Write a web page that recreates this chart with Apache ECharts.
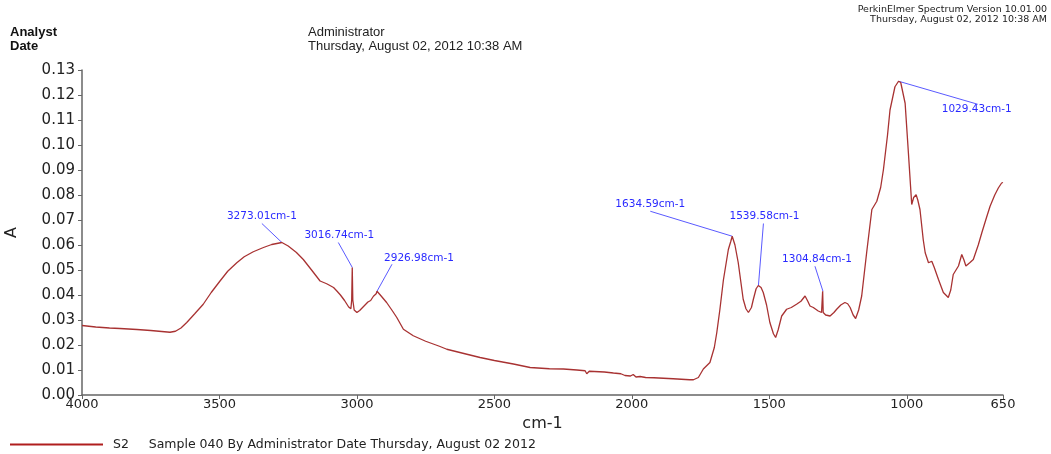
<!DOCTYPE html>
<html>
<head>
<meta charset="utf-8">
<title>Spectrum S2</title>
<script src="https://cdn.jsdelivr.net/npm/echarts@6.0.0/dist/echarts.min.js"></script>
<style>
  html, body { margin: 0; padding: 0; background: #fff; }
  #chart { width: 1051px; height: 454px; }
</style>
</head>
<body>
<div id="chart"></div>
<script>
// wavenumber (cm-1) and absorbance
var wavenumbers = [
  4000, 3950, 3900, 3862, 3800, 3750, 3700, 3680, 3660, 3640,
  3619, 3590, 3559, 3530, 3498, 3470, 3437, 3410, 3377, 3340,
  3310, 3273, 3250, 3220, 3195, 3165, 3134, 3110, 3095, 3085,
  3073, 3060, 3045, 3030, 3022, 3019, 3017, 3015, 3010, 3000,
  2990, 2975, 2960, 2950, 2940, 2930, 2927, 2915, 2892, 2870,
  2855, 2831, 2795, 2750, 2700, 2673, 2600, 2552, 2500, 2431,
  2370, 2300, 2249, 2200, 2170, 2164, 2155, 2100, 2067, 2040,
  2025, 2019, 2005, 1995, 1985, 1970, 1950, 1920, 1885, 1850,
  1820, 1790, 1776, 1758, 1740, 1716, 1700, 1691, 1680, 1667,
  1649, 1640, 1635, 1625, 1613, 1595, 1585, 1576, 1565, 1558,
  1548, 1540, 1530, 1522, 1510, 1498, 1485, 1477, 1468, 1455,
  1437, 1420, 1401, 1385, 1370, 1360, 1352, 1340, 1322, 1310,
  1306, 1304, 1295, 1279, 1265, 1255, 1240, 1225, 1215, 1206,
  1195, 1186, 1175, 1164, 1146, 1127, 1109, 1095, 1085, 1070,
  1061, 1043, 1030, 1022, 1006, 994, 982, 975, 966, 960,
  952, 940, 933, 921, 909, 900, 885, 867, 849, 840,
  831, 812, 800, 792, 785, 770, 758, 740, 727, 710,
  697, 680, 667, 655, 650
];
var absorbance = [
  0.0278, 0.0272, 0.0268, 0.0266, 0.0262, 0.0258, 0.0253, 0.0251, 0.0255, 0.0268,
  0.0290, 0.0325, 0.0363, 0.0410, 0.0456, 0.0495, 0.0529, 0.0553, 0.0573, 0.0590,
  0.0602, 0.0610, 0.0596, 0.0570, 0.0542, 0.0500, 0.0456, 0.0445, 0.0436, 0.0430,
  0.0416, 0.0400, 0.0378, 0.0352, 0.0345, 0.0380, 0.0510, 0.0380, 0.0340, 0.0330,
  0.0338, 0.0355, 0.0372, 0.0378, 0.0395, 0.0405, 0.0415, 0.0400, 0.0370, 0.0335,
  0.0310, 0.0263, 0.0237, 0.0215, 0.0195, 0.0183, 0.0163, 0.0150, 0.0138, 0.0124,
  0.0110, 0.0105, 0.0104, 0.0100, 0.0097, 0.0085, 0.0095, 0.0092, 0.0088, 0.0085,
  0.0078, 0.0085, 0.0076, 0.0082, 0.0072, 0.0074, 0.0070, 0.0069, 0.0067, 0.0065,
  0.0063, 0.0061, 0.0061, 0.0070, 0.0104, 0.0130, 0.0190, 0.0250, 0.0340, 0.0460,
  0.0582, 0.0615, 0.0635, 0.0600, 0.0529, 0.0383, 0.0345, 0.0330, 0.0350, 0.0383,
  0.0425, 0.0438, 0.0430, 0.0410, 0.0360, 0.0290, 0.0245, 0.0230, 0.0260, 0.0316,
  0.0343, 0.0350, 0.0363, 0.0375, 0.0396, 0.0375, 0.0356, 0.0350, 0.0336, 0.0330,
  0.0415, 0.0330, 0.0320, 0.0316, 0.0330, 0.0343, 0.0360, 0.0370, 0.0365, 0.0350,
  0.0320, 0.0306, 0.0340, 0.0396, 0.0569, 0.0742, 0.0775, 0.0830, 0.0901, 0.1040,
  0.1140, 0.1233, 0.1255, 0.1250, 0.1167, 0.0967, 0.0762, 0.0790, 0.0801, 0.0780,
  0.0742, 0.0620, 0.0569, 0.0529, 0.0535, 0.0510, 0.0463, 0.0410, 0.0390, 0.0420,
  0.0482, 0.0516, 0.0562, 0.0540, 0.0516, 0.0530, 0.0542, 0.0600, 0.0649, 0.0710,
  0.0755, 0.0800, 0.0828, 0.0848, 0.0850
];

var xTicks = [4000, 3500, 3000, 2500, 2000, 1500, 1000, 650];

// labelled peaks
var peaks = [3273.01, 3016.74, 2926.98, 1634.59, 1539.58, 1304.84, 1029.43];
var peakValues = [0.0610, 0.0510, 0.0415, 0.0635, 0.0438, 0.0415, 0.1255];

// leader line end offset (px) and text centre offset from that end
var peakLayout = [
  [-20, -19, 0, -7],
  [-14, -25, 1, -7],
  [15, -27, 27, -6],
  [-82, -25, 0, -7],
  [5, -62, 1, -7],
  [-8, -25, 2, -7],
  [79, 23, -1, 5]
];

var seriesName = 'S2     Sample 040 By Administrator Date Thursday, August 02 2012';

var myChart = echarts.init(document.getElementById('chart'));

var points = wavenumbers.map(function (w, i) { return [w, absorbance[i]]; });

var option = {
  animation: false,
  backgroundColor: '#fff',
  grid: { left: 82, right: 48, top: 70, height: 325, outerBoundsMode: 'none' },
  legend: {
    left: 5,
    top: 433,
    icon: 'rect',
    itemWidth: 93,
    itemHeight: 2,
    textStyle: { fontFamily: 'DejaVu Sans', fontSize: 12.5, color: '#222', padding: [0, 0, 0, 5] },
    data: [seriesName]
  },
  xAxis: {
    type: 'value',
    min: 650,
    max: 4000,
    inverse: true,
    name: 'cm-1',
    nameLocation: 'middle',
    nameGap: 19,
    nameTextStyle: { fontFamily: 'DejaVu Sans', fontSize: 16, color: '#222' },
    axisLine: { lineStyle: { color: '#666', width: 1.5 } },
    axisTick: { length: 4, lineStyle: { color: '#666' }, customValues: xTicks },
    axisLabel: {
      customValues: xTicks,
      margin: 3,
      fontFamily: 'DejaVu Sans',
      fontSize: 13,
      color: '#222',
      formatter: function (v) { return String(v); }
    },
    splitLine: { show: false }
  },
  yAxis: {
    type: 'value',
    min: 0,
    max: 0.13,
    interval: 0.01,
    name: 'A',
    nameLocation: 'middle',
    nameGap: 62,
    nameRotate: 90,
    nameTextStyle: { fontFamily: 'DejaVu Sans', fontSize: 16, color: '#222' },
    axisLine: { show: true, lineStyle: { color: '#666', width: 1.5 } },
    axisTick: { show: true, length: 4, lineStyle: { color: '#666' } },
    axisLabel: {
      margin: 7,
      fontFamily: 'DejaVu Sans',
      fontSize: 15,
      color: '#222',
      formatter: function (v) { return v.toFixed(2); }
    },
    splitLine: { show: false }
  },
  series: [{
    name: seriesName,
    type: 'line',
    data: points,
    symbol: 'none',
    color: '#b01e1e',
    lineStyle: { color: '#a83232', width: 1.3 }
  }]
};

myChart.setOption(option);

// header texts and peak annotations
var graphics = [
  { type: 'text', left: 10, top: 26, style: { text: 'Analyst', font: 'bold 13px "Liberation Sans"', fill: '#111' } },
  { type: 'text', left: 10, top: 40, style: { text: 'Date', font: 'bold 13px "Liberation Sans"', fill: '#111' } },
  { type: 'text', left: 308, top: 26, style: { text: 'Administrator', font: '13px "Liberation Sans"', fill: '#222' } },
  { type: 'text', left: 308, top: 40, style: { text: 'Thursday, August 02, 2012 10:38 AM', font: '13px "Liberation Sans"', fill: '#222' } },
  { type: 'text', right: 4, top: 5, style: { text: 'PerkinElmer Spectrum Version 10.01.00', font: '9.5px "DejaVu Sans"', fill: '#222' } },
  { type: 'text', right: 4, top: 15, style: { text: 'Thursday, August 02, 2012 10:38 AM', font: '9.5px "DejaVu Sans"', fill: '#222' } }
];

peaks.forEach(function (p, i) {
  var pt = myChart.convertToPixel({ gridIndex: 0 }, [p, peakValues[i]]);
  var lay = peakLayout[i];
  var ex = pt[0] + lay[0], ey = pt[1] + lay[1];
  graphics.push({
    type: 'line',
    shape: { x1: pt[0], y1: pt[1], x2: ex, y2: ey },
    style: { stroke: '#5a5aff', lineWidth: 1 }
  });
  graphics.push({
    type: 'text',
    x: ex + lay[2],
    y: ey + lay[3],
    style: {
      text: p.toFixed(2) + 'cm-1',
      font: '10.5px "DejaVu Sans"',
      fill: '#2a2aff',
      align: 'center',
      verticalAlign: 'middle'
    }
  });
});

myChart.setOption({ graphic: graphics });
</script>
</body>
</html>
